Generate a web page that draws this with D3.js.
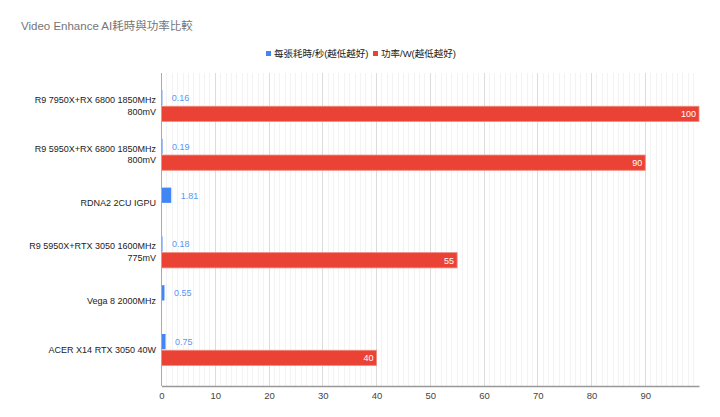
<!DOCTYPE html>
<html>
<head>
<meta charset="utf-8">
<script src="https://cdn.jsdelivr.net/npm/d3@7/dist/d3.min.js"></script>
<style>
  body { margin: 0; background: #fff; }
  text { font-family: "Liberation Sans", Arial, "Noto Sans CJK TC", sans-serif; }
</style>
</head>
<body>
<div id="chart"></div>
<script>
// chart data
const categories = [
  "R9 7950X+RX 6800 1850MHz|800mV",
  "R9 5950X+RX 6800 1850MHz|800mV",
  "RDNA2 2CU IGPU",
  "R9 5950X+RTX 3050 1600MHz|775mV",
  "Vega 8 2000MHz",
  "ACER X14 RTX 3050 40W"
]
const secondsPerImage = [0.16, 0.19, 1.81, 0.18, 0.55, 0.75]
const powerWatts = [100, 90, null, 55, null, 40]
const seriesNames = ["每張耗時/秒(越低越好)", "功率/W(越低越好)"]
const xTicks = [0, 10, 20, 30, 40, 50, 60, 70, 80, 90]

const width = 720, height = 417
const colors = ["#4285f4", "#ea4335"]

const svg = d3.select("#chart")
  .append("svg")
  .attr("width", width)
  .attr("height", height)

// title
svg.append("text")
  .attr("x", 21).attr("y", 30)
  .attr("font-size", 11.5)
  .attr("fill", "#757575")
  .text("Video Enhance AI耗時與功率比較")

// legend
const legendX = [266, 373]
seriesNames.forEach((name, i) => {
  svg.append("rect")
    .attr("x", legendX[i]).attr("y", 51)
    .attr("width", 5).attr("height", 5)
    .attr("fill", colors[i])
  svg.append("text")
    .attr("x", legendX[i] + 8).attr("y", 57)
    .attr("font-size", 9.5)
    .attr("fill", "#222")
    .text(name)
})

// scales
const x = d3.scaleLinear().domain([0, 100]).range([161.5, 699])
const y = d3.scalePoint().domain(categories).range([105.5, 349.5])
const inner = d3.scaleBand().domain([0, 1]).range([-15.5, 16]).paddingInner(0.06)

const plotTop = 73, plotBottom = 386

// grid lines
const minor = d3.range(1, 100).filter(v => v % 10 !== 0)
svg.append("g").selectAll("line")
  .data(minor)
  .enter().append("line")
  .attr("x1", d => x(d)).attr("x2", d => x(d))
  .attr("y1", plotTop).attr("y2", plotBottom)
  .attr("stroke", "#f3f3f3")
  .attr("shape-rendering", "crispEdges")

svg.append("g").selectAll("line")
  .data(xTicks.slice(1))
  .enter().append("line")
  .attr("x1", d => x(d)).attr("x2", d => x(d))
  .attr("y1", plotTop).attr("y2", plotBottom)
  .attr("stroke", "#dcdcdc")
  .attr("shape-rendering", "crispEdges")

// bottom axis
const axis = svg.append("g")
  .attr("transform", "translate(0," + plotBottom + ")")
  .call(d3.axisBottom(x).tickValues(xTicks).tickSize(0).tickPadding(6))
axis.select(".domain").attr("stroke", "#999").attr("stroke-width", 1.5)
axis.selectAll("text")
  .attr("font-size", 9.5)
  .attr("fill", "#444")
  .style("font-family", "'Liberation Sans', Arial, sans-serif")

// category labels
categories.forEach(c => {
  const lines = c.split("|")
  const t = svg.append("text")
    .attr("text-anchor", "end")
    .attr("font-size", 9)
    .attr("fill", "#222")
  lines.forEach((ln, i) => {
    t.append("tspan")
      .attr("x", 156)
      .attr("y", y(c) + (i - (lines.length - 1) / 2) * 11.5 + 3.3)
      .text(ln)
  })
})

// bars
const barData = []
categories.forEach((c, i) => {
  barData.push({ cat: c, s: 0, v: secondsPerImage[i] })
  if (powerWatts[i] !== null) barData.push({ cat: c, s: 1, v: powerWatts[i] })
})

svg.append("g").selectAll("rect")
  .data(barData)
  .enter().append("rect")
  .attr("x", x(0))
  .attr("y", d => y(d.cat) + inner(d.s))
  .attr("width", d => x(d.v) - x(0))
  .attr("height", inner.bandwidth())
  .attr("fill", d => colors[d.s])
  .attr("stroke", d => d.s === 1 ? "#f08a80" : "none")
  .attr("stroke-width", 0.8)

// zero line drawn above bars
svg.append("line")
  .attr("x1", x(0)).attr("x2", x(0))
  .attr("y1", plotTop).attr("y2", plotBottom)
  .attr("stroke", "#aaa")
  .attr("shape-rendering", "crispEdges")

// value labels
svg.append("g").selectAll("text")
  .data(barData)
  .enter().append("text")
  .attr("x", d => d.s === 0 ? x(d.v) + 9.5 : x(d.v) - 3)
  .attr("y", d => y(d.cat) + inner(d.s) + inner.bandwidth() / 2 + 3.3)
  .attr("text-anchor", d => d.s === 0 ? "start" : "end")
  .attr("font-size", 9)
  .attr("fill", d => d.s === 0 ? "#5b95f5" : "#fff")
  .text(d => d.s === 0 ? d.v.toFixed(2) : d.v)
</script>
</body>
</html>
